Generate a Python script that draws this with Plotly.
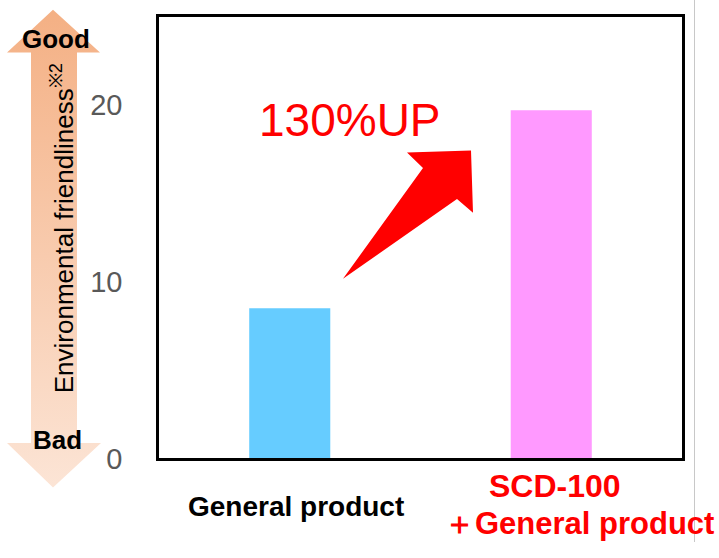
import plotly.graph_objects as go

# ---- data ----
categories = ["General product", "SCD-100 +General product"]
values = [8.5, 19.7]
bar_colors = ["#66CCFF", "#FF99FF"]
y_ticks = [0, 10, 20]
label_line1 = ["General product", "SCD-100"]
label_line2 = ["", "＋General product"]
increase_text = "130%UP"
axis_title = "Environmental friendliness<sup>※2</sup>"

W, H = 719, 558
# plot box in pixels
L, R, T, B = 159, 682, 17, 472

def fx(px):
    return px / W

def fy(py):
    return (H - py) / H

fig = go.Figure()

fig.add_trace(go.Bar(
    x=categories, y=values, marker=dict(color=bar_colors, line=dict(width=0)),
    width=0.31, hoverinfo="skip", showlegend=False,
))

# gradient double-headed arrow on a pixel overlay axis
ax_x = [53, 100, 77, 77, 101, 53, 7, 31, 31, 7, 53]
ax_y = [10, 54, 54, 456, 456, 502, 456, 456, 54, 54, 10]
fig.add_trace(go.Scatter(
    x=ax_x, y=ax_y, xaxis="x2", yaxis="y2", mode="lines",
    line=dict(width=0), fill="toself",
    fillgradient=dict(type="vertical",
                      colorscale=[[0, "#FCE6D8"], [1, "#F4B084"]],
                      start=502, stop=10),
    hoverinfo="skip", showlegend=False,
))

fig.update_layout(
    width=W, height=H,
    margin=dict(l=0, r=0, t=0, b=0),
    paper_bgcolor="white", plot_bgcolor="rgba(0,0,0,0)",
    xaxis=dict(domain=[fx(L), fx(R)], range=[-0.5, 1.5], showticklabels=False,
               showline=True, linecolor="black", linewidth=2.5, mirror=True,
               showgrid=False, zeroline=False, ticks="", fixedrange=True,
               anchor="y"),
    yaxis=dict(domain=[fy(B), fy(T)], range=[0, 25], tickvals=y_ticks,
               tickfont=dict(family="Liberation Sans", size=29, color="#595959"),
               showline=True, linecolor="black", linewidth=2.5, mirror=True,
               showgrid=False, zeroline=False, ticks="", ticklabelstandoff=28,
               fixedrange=True, anchor="x"),
    xaxis2=dict(domain=[0, 1], range=[0, W], visible=False, fixedrange=True, anchor="y2"),
    yaxis2=dict(domain=[0, 1], range=[H, 0], visible=False, fixedrange=True, anchor="x2"),
    bargap=0.69,
)

shapes = [
    # red up arrow
    dict(type="path", xref="x2", yref="y2",
         path="M 343 287 L 423 173 L 407 157 L 471 155 L 473 219 L 457 205 Z",
         fillcolor="#FF0000", line=dict(width=0), layer="above"),
    # grey separator line at right
    dict(type="line", xref="x2", yref="y2", x0=694.5, x1=694.5, y0=0, y1=H,
         line=dict(color="#C8C8C8", width=1)),
]
fig.update_layout(shapes=shapes)

ann = []
font_b = "Liberation Sans"
ann.append(dict(x=56, y=40, xref="x2", yref="y2", text="<b>Good</b>", showarrow=False,
                font=dict(family=font_b, size=26, color="black")))
ann.append(dict(x=57, y=453, xref="x2", yref="y2", text="<b>Bad</b>", showarrow=False,
                font=dict(family=font_b, size=26, color="black")))
ann.append(dict(x=62, y=235, xref="x2", yref="y2", text=axis_title, showarrow=False,
                textangle=-90, font=dict(family="Liberation Sans", size=26, color="black")))
ann.append(dict(x=350, y=124, xref="x2", yref="y2", text=increase_text, showarrow=False,
                font=dict(family="Liberation Sans", size=46, color="#FF0000")))
# category labels
ann.append(dict(x=296, y=521, xref="x2", yref="y2", text="<b>" + label_line1[0] + "</b>",
                showarrow=False, font=dict(family=font_b, size=28, color="black")))
ann.append(dict(x=555, y=500, xref="x2", yref="y2", text="<b>" + label_line1[1] + "</b>",
                showarrow=False, font=dict(family=font_b, size=32, color="#FF0000")))
ann.append(dict(x=579, y=539, xref="x2", yref="y2", text="<b>" + label_line2[1] + "</b>",
                showarrow=False, font=dict(family=font_b, size=31, color="#FF0000")))
fig.update_layout(annotations=ann)

fig.write_html("out.html",
               config=dict(displayModeBar=False),
               post_script="document.body.style.margin='0';document.body.style.overflow='hidden';")
